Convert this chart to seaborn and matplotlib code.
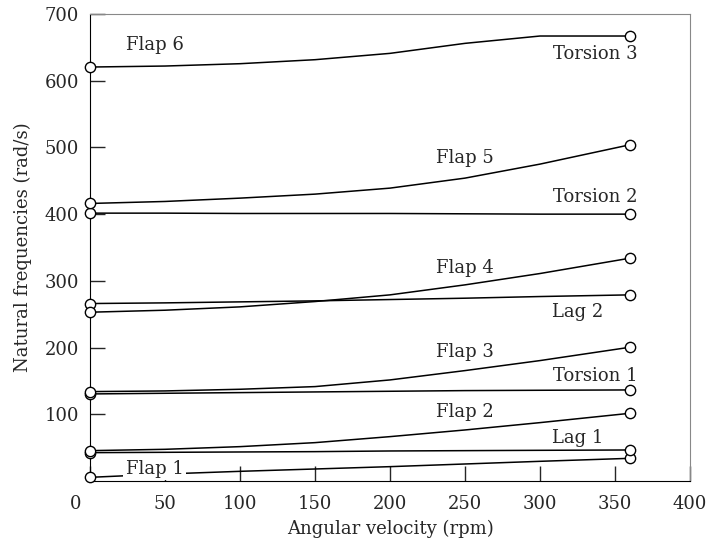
import numpy as np
import pandas as pd
import matplotlib
matplotlib.use("Agg")
import matplotlib.pyplot as plt
import matplotlib.transforms as mtransforms
import seaborn as sns

# angular velocity (rpm) at which the curves were read
rpm = [0, 50, 100, 150, 200, 250, 300, 360]

# natural frequencies (rad/s)
flap1 = [5.5, 10.5, 14.5, 18, 21.5, 25.5, 29.5, 34]
lag1 = [42.5, 43, 43.5, 44, 45, 45.5, 46, 46.5]
flap2 = [45.5, 47.5, 51.5, 57.5, 66.5, 76.5, 87.5, 101.5]
torsion1 = [130.5, 131.5, 132.5, 133.5, 134.5, 135.5, 136, 136.5]
flap3 = [134, 135, 137.5, 141.5, 151.5, 165.5, 180.5, 200.5]
lag2 = [266, 267, 268.5, 270, 272, 274, 276.5, 279]
flap4 = [253, 256, 261, 269, 279, 294, 311, 334]
torsion2 = [401.5, 401.5, 401, 401, 401, 400.5, 400, 400]
flap5 = [416, 419, 424, 430, 439, 454, 475, 504]
flap6 = [620.5, 622, 625.5, 631.5, 641, 656, 667, 667]

modes = {
    "Flap 1": flap1, "Lag 1": lag1, "Flap 2": flap2, "Torsion 1": torsion1,
    "Flap 3": flap3, "Lag 2": lag2, "Flap 4": flap4, "Torsion 2": torsion2,
    "Flap 5": flap5, "Flap 6": flap6,
}

# label text and where it sits (rpm, rad/s)
labels = ["Flap 6", "Torsion 3", "Flap 5", "Torsion 2", "Flap 4", "Lag 2",
          "Flap 3", "Torsion 1", "Flap 2", "Lag 1", "Flap 1"]
label_x = [43, 337, 250, 337, 250, 325, 250, 337, 250, 325, 43]
label_y = [654, 640, 484, 426, 319, 254, 193, 157, 103, 65, 18]

rows = []
for name, vals in modes.items():
    for r, v in zip(rpm, vals):
        rows.append({"mode": name, "rpm": r, "freq": v})
df = pd.DataFrame(rows)
ends = df[df["rpm"].isin([rpm[0], rpm[-1]])]

sns.set_style("ticks")
plt.rcParams["font.family"] = ["DejaVu Serif"]

fig = plt.figure(figsize=(7.08, 5.41), dpi=100)
ax = fig.add_axes([90 / 708, 60 / 541, 600 / 708, 467 / 541])

sns.lineplot(data=df, x="rpm", y="freq", units="mode", estimator=None,
             color="black", lw=1.1, ax=ax, legend=False)
sns.scatterplot(data=ends, x="rpm", y="freq", color="white", edgecolor="black",
                linewidth=1.0, s=55, ax=ax, zorder=5, clip_on=False, legend=False)

for t, x, y in zip(labels, label_x, label_y):
    kw = {}
    if t == "Flap 1":
        kw["bbox"] = dict(facecolor="white", edgecolor="none", pad=1.5)
    ax.text(x, y, t, ha="center", va="center", fontsize=13, zorder=6, **kw)

ax.set_xlim(0, 400)
ax.set_ylim(0, 700)
ax.set_xticks(range(0, 401, 50))
ax.set_yticks(range(100, 701, 100))
ax.tick_params(direction="in", length=11, width=1, labelsize=13, pad=8)
ax.tick_params(axis="x", pad=10)
for s in ["top", "right"]:
    ax.spines[s].set_color("#888888")
for s in ["left", "bottom"]:
    ax.spines[s].set_color("black")

# the "0" label sits left of the corner
lbl0 = ax.get_xticklabels()[0]
lbl0.set_transform(lbl0.get_transform() +
                   mtransforms.ScaledTranslation(-0.14, 0, fig.dpi_scale_trans))

ax.set_xlabel("Angular velocity (rpm)", fontsize=13, labelpad=5)
ax.set_ylabel("Natural frequencies (rad/s)", fontsize=13, labelpad=9)

fig.savefig("out.png", dpi=100)
